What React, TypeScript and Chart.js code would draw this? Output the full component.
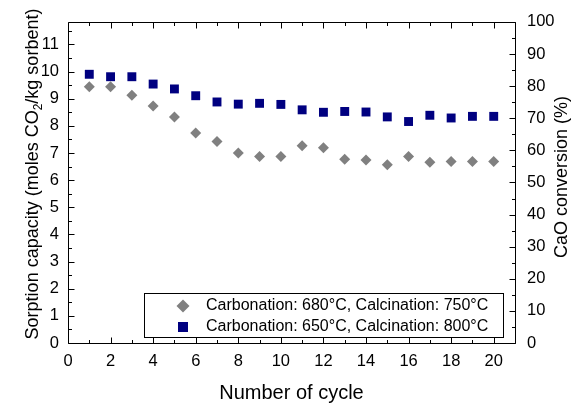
import React, { useEffect, useRef } from 'react';
import { Chart, registerables } from 'chart.js';

Chart.register(...registerables);

const cycles = [1, 2, 3, 4, 5, 6, 7, 8, 9, 10, 11, 12, 13, 14, 15, 16, 17, 18, 19, 20];
const sorption680_750 = [9.44, 9.44, 9.13, 8.73, 8.33, 7.74, 7.42, 7.0, 6.87, 6.87, 7.27, 7.19, 6.77, 6.74, 6.57, 6.87, 6.66, 6.69, 6.69, 6.69];
const sorption650_800 = [9.9, 9.81, 9.81, 9.54, 9.36, 9.11, 8.88, 8.8, 8.83, 8.79, 8.59, 8.5, 8.53, 8.51, 8.33, 8.16, 8.39, 8.29, 8.35, 8.35];
const seriesLabels = ['Carbonation: 680°C, Calcination: 750°C', 'Carbonation: 650°C, Calcination: 800°C'];
const seriesColors = ['#808080', '#000080'];
const xTickValues = [0, 2, 4, 6, 8, 10, 12, 14, 16, 18, 20];
const leftTickValues = [0, 1, 2, 3, 4, 5, 6, 7, 8, 9, 10, 11];
const rightTickValues = [0, 10, 20, 30, 40, 50, 60, 70, 80, 90, 100];
const xRange = [0, 21];
const leftRange = [0, 11.83];
const rightRange = [0, 100];
const xTitle = 'Number of cycle';
const leftTitleParts = ['Sorption capacity (moles CO', '2', '/kg sorbent)'];
const rightTitle = 'CaO conversion (%)';

const FONT = '"Liberation Sans", Arial, Helvetica, sans-serif';

const framePlugin = {
  id: 'framePlugin',
  afterDraw(chart: any) {
    const { ctx, chartArea: ca, scales } = chart;
    const L = Math.round(ca.left) + 0.5;
    const R = Math.round(ca.right) + 0.5;
    const T = Math.round(ca.top) + 0.5;
    const B = Math.round(ca.bottom) + 0.5;
    ctx.save();
    ctx.strokeStyle = '#000';
    ctx.lineWidth = 1;
    ctx.beginPath();
    ctx.rect(L, T, R - L, B - T);
    ctx.stroke();

    const major = 6;
    const minor = 3.5;
    ctx.beginPath();
    for (let v = xRange[0]; v <= xRange[1]; v += 1) {
      const px = Math.round(scales.x.getPixelForValue(v)) + 0.5;
      const len = v % 2 === 0 ? major : minor;
      ctx.moveTo(px, B);
      ctx.lineTo(px, B - len);
      ctx.moveTo(px, T);
      ctx.lineTo(px, T + len);
    }
    for (let v = 0; v <= leftRange[1]; v += 0.5) {
      const py = Math.round(scales.y.getPixelForValue(v)) + 0.5;
      const len = Number.isInteger(v) ? major : minor;
      ctx.moveTo(L, py);
      ctx.lineTo(L + len, py);
    }
    for (let v = rightRange[0]; v <= rightRange[1]; v += 5) {
      const py = Math.round(scales.y2.getPixelForValue(v)) + 0.5;
      const len = v % 10 === 0 ? major : minor;
      ctx.moveTo(R, py);
      ctx.lineTo(R - len, py);
    }
    ctx.stroke();

    ctx.fillStyle = '#000';
    ctx.textBaseline = 'middle';
    ctx.textAlign = 'center';
    ctx.font = `20px ${FONT}`;
    ctx.fillText(xTitle, (ca.left + ca.right) / 2, 393);

    ctx.save();
    ctx.translate(33, 174);
    ctx.rotate(-Math.PI / 2);
    ctx.textAlign = 'left';
    ctx.font = `18px ${FONT}`;
    const w1 = ctx.measureText(leftTitleParts[0]).width;
    const w3 = ctx.measureText(leftTitleParts[2]).width;
    ctx.font = `12px ${FONT}`;
    const w2 = ctx.measureText(leftTitleParts[1]).width;
    let sx = -(w1 + w2 + w3) / 2;
    ctx.font = `18px ${FONT}`;
    ctx.fillText(leftTitleParts[0], sx, 0);
    sx += w1;
    ctx.font = `12px ${FONT}`;
    ctx.fillText(leftTitleParts[1], sx, 6);
    sx += w2;
    ctx.font = `18px ${FONT}`;
    ctx.fillText(leftTitleParts[2], sx, 0);
    ctx.restore();

    ctx.save();
    ctx.translate(562, 177);
    ctx.rotate(-Math.PI / 2);
    ctx.textAlign = 'center';
    ctx.font = `18px ${FONT}`;
    ctx.fillText(rightTitle, 0, 0);
    ctx.restore();

    ctx.fillStyle = '#fff';
    ctx.fillRect(144.5, 293.5, 359, 44);
    ctx.strokeStyle = '#000';
    ctx.strokeRect(144.5, 293.5, 359, 44);
    const mx = 183;
    const rows = [306, 327];
    ctx.fillStyle = seriesColors[0];
    ctx.beginPath();
    ctx.moveTo(mx - 6.5, rows[0]);
    ctx.lineTo(mx, rows[0] - 6.5);
    ctx.lineTo(mx + 6.5, rows[0]);
    ctx.lineTo(mx, rows[0] + 6.5);
    ctx.closePath();
    ctx.fill();
    ctx.fillStyle = seriesColors[1];
    ctx.fillRect(mx - 5, rows[1] - 5, 10, 10);
    ctx.fillStyle = '#000';
    ctx.textAlign = 'left';
    ctx.font = `16px ${FONT}`;
    ctx.fillText(seriesLabels[0], 206, rows[0]);
    ctx.fillText(seriesLabels[1], 206, rows[1]);
    ctx.restore();
  },
};

export default function App() {
  const canvasRef = useRef<HTMLCanvasElement | null>(null);

  useEffect(() => {
    const canvas = canvasRef.current;
    if (!canvas) return;
    const tickFont = { family: FONT, size: 16.5 };
    const chart = new Chart(canvas, {
      type: 'scatter',
      data: {
        datasets: [
          {
            label: seriesLabels[0],
            data: cycles.map((c, i) => ({ x: c, y: sorption680_750[i] })),
            pointStyle: 'rectRot',
            pointRadius: 5.5,
            pointBackgroundColor: seriesColors[0],
            pointBorderColor: seriesColors[0],
            pointBorderWidth: 0,
            yAxisID: 'y',
          },
          {
            label: seriesLabels[1],
            data: cycles.map((c, i) => ({ x: c, y: sorption650_800[i] })),
            pointStyle: 'rect',
            pointRadius: 6.3,
            pointBackgroundColor: seriesColors[1],
            pointBorderColor: seriesColors[1],
            pointBorderWidth: 0,
            yAxisID: 'y',
          },
        ],
      },
      options: {
        responsive: false,
        animation: false,
        layout: { padding: { top: 21, left: 0, right: 0, bottom: 0 } },
        plugins: {
          legend: { display: false },
          tooltip: { enabled: false },
        },
        scales: {
          x: {
            type: 'linear',
            position: 'bottom',
            min: xRange[0],
            max: xRange[1],
            grid: { display: false, drawTicks: false },
            border: { display: false },
            ticks: { color: '#000', font: tickFont, padding: 9, maxRotation: 0, autoSkip: false },
            afterBuildTicks: (s: any) => {
              s.ticks = xTickValues.map((v) => ({ value: v }));
            },
            afterFit: (s: any) => {
              s.height = 69;
            },
          },
          y: {
            type: 'linear',
            position: 'left',
            min: leftRange[0],
            max: leftRange[1],
            grid: { display: false, drawTicks: false },
            border: { display: false },
            ticks: { color: '#000', font: tickFont, padding: 9, autoSkip: false },
            afterBuildTicks: (s: any) => {
              s.ticks = leftTickValues.map((v) => ({ value: v }));
            },
            afterFit: (s: any) => {
              s.width = 68;
            },
          },
          y2: {
            type: 'linear',
            position: 'right',
            display: true,
            min: rightRange[0],
            max: rightRange[1],
            grid: { display: false, drawTicks: false },
            border: { display: false },
            ticks: { color: '#000', font: tickFont, padding: 12, autoSkip: false },
            afterBuildTicks: (s: any) => {
              s.ticks = rightTickValues.map((v) => ({ value: v }));
            },
            afterFit: (s: any) => {
              s.width = 58;
            },
          },
        },
      },
      plugins: [framePlugin],
    });
    return () => chart.destroy();
  }, []);

  return (
    <div style={{ position: 'fixed', left: 0, top: 0, width: 573, height: 412, background: '#fff' }}>
      <canvas ref={canvasRef} width={573} height={412} style={{ display: 'block' }} />
    </div>
  );
}
